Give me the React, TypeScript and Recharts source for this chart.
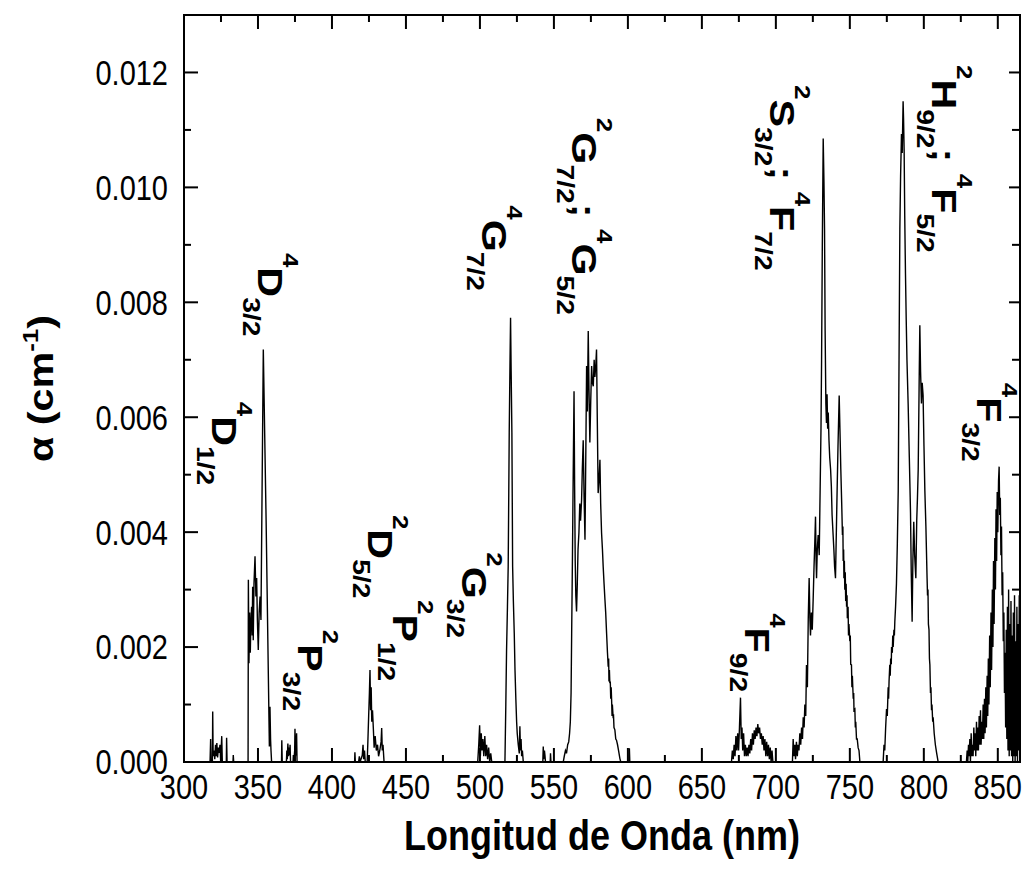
import React from 'react';
import { LineChart, Line, XAxis, YAxis, ReferenceDot } from 'recharts';

const FONT = '"Liberation Sans", Arial, Helvetica, sans-serif';
const STRETCH = 1.18;

const WIDTH = 1027;
const HEIGHT = 875;
const LEFT_W = 184;
const RIGHT_W = 7;
const TOP_H = 15;
const BOTTOM_H = 113;

const X_MIN = 300;
const X_MAX = 865;
const Y_MAX = 0.013;

const xTicks = [300, 325, 350, 375, 400, 425, 450, 475, 500, 525, 550, 575, 600, 625, 650, 675, 700, 725, 750, 775, 800, 825, 850];
const yTicks = [0, 0.001, 0.002, 0.003, 0.004, 0.005, 0.006, 0.007, 0.008, 0.009, 0.01, 0.011, 0.012];

// [nm, alpha (cm-1)], band by band
const uvBand: [number, number][] = [
    [300, 0], [317.6, 0], [318, 0.0004], [318.3, 0], [319.2, 0], [319.4, 0.00088], [319.7, 0.0001], [320.3, 0.0002],
    [320.8, 0.00005], [321.3, 0.0003], [321.7, 0.0001], [322.2, 0.00033], [322.7, 0.00008], [323.3, 0.00025],
    [323.8, 0.00016], [324.3, 0.0003], [324.8, 0], [325.5, 0.00045], [325.9, 0], [328.6, 0], [328.8, 0.00042],
    [329.1, 0], [333.1, 0], [333.3, 0.00012], [333.6, 0], [343.3, 0],
];

const band4D: [number, number][] = [
    [343.5, 0.00317], [343.9, 0.00172], [344.4, 0.0026], [344.8, 0.0019], [345.1, 0.0023], [345.7, 0.0027],
    [346.1, 0.0022], [346.4, 0.00305], [346.8, 0.00212], [347.3, 0.0031], [348, 0.00358], [348.6, 0.00288],
    [349.1, 0.0032], [349.6, 0.00247], [350.2, 0.00195], [350.8, 0.0026], [351.4, 0.00288], [352, 0.00247],
    [353.6, 0.00718], [355.5, 0.0042], [357.7, 0.00027], [358.1, 0.00096], [358.5, 0.0004], [358.8, 0.0002], [359.2, 0],
];

const band2P32: [number, number][] = [
    [365.9, 0], [366.1, 0.00038], [366.4, 0], [369.2, 0], [369.5, 0.0002], [369.8, 0.00005], [370.2, 0.00032],
    [370.6, 0.0001], [371, 0.00025], [371.4, 0.00012], [371.7, 0.0003], [372, 0], [373.7, 0], [373.9, 0.00012],
    [374.2, 0], [374.8, 0.0002], [375, 0.00058], [375.3, 0.0001], [375.8, 0.0003], [376.1, 0.0005], [376.4, 0], [415, 0],
];

const band2P12: [number, number][] = [
    [415.3, 0], [415.5, 0.00017], [415.8, 0], [418, 0], [418.5, 0.0001], [419, 0], [420.5, 0.00012], [421, 0.0003],
    [421.4, 0.00005], [422, 0.0002], [422.5, 0], [423.8, 0], [424.2, 0.0003], [424.8, 0.0008], [425.3, 0.0012],
    [425.7, 0.0016], [426.1, 0.0009], [426.5, 0.0013], [426.9, 0.0007], [427.4, 0.0009], [428, 0.00056],
    [428.5, 0.00025], [429.2, 0.00045], [430, 0.0002], [430.8, 0.0003], [431.5, 0.0001], [432.3, 0.0002],
    [433.2, 0.00035], [433.6, 0.00059], [434, 0.0002], [434.5, 0.0003], [435.2, 0], [498, 0],
];

const band4G72: [number, number][] = [
    [498.5, 0], [499.2, 0.0003], [499.8, 0.00064], [500.3, 0.0001], [500.9, 0.0005], [501.4, 0.0002], [502, 0.0004],
    [502.6, 0.0001], [503.3, 0.00045], [503.9, 0.0001], [504.5, 0.0003], [505.2, 0.00005], [505.9, 0.00025],
    [506.6, 0], [507.3, 0.00015], [508, 0], [516.9, 0], [517.5, 0.001], [518, 0.00195], [518.6, 0.0027],
    [519.1, 0.0034], [519.5, 0.0047], [519.8, 0.00573], [520.3, 0.0069], [520.7, 0.00773], [521.1, 0.0068],
    [521.6, 0.00573], [522.1, 0.0034], [522.6, 0.0028], [523.2, 0.00224], [523.7, 0.0016], [524.3, 0.00108],
    [524.8, 0.0007], [525.2, 0.0005], [525.9, 0.0003], [526.6, 0.00015], [527, 0.00062], [527.4, 0.0002],
    [527.8, 0.0004], [528.2, 0.0001], [528.7, 0.0002], [529.3, 0], [542.5, 0],
    [542.8, 0.00027], [543.1, 0.00005], [543.6, 0.0002], [544, 0.0001], [544.3, 0], [547.5, 0], [547.7, 0.00015],
    [548, 0], [555.8, 0],
];

const band2G: [number, number][] = [
    [556.3, 0], [557, 0.0001], [557.8, 0.0002], [558.5, 0.00015], [559.3, 0.0003], [560, 0.00035], [560.6, 0.0005],
    [561.1, 0.0007], [561.6, 0.0012], [562, 0.00224], [562.5, 0.0035], [563, 0.0049], [563.6, 0.00645],
    [564, 0.0048], [564.4, 0.0035], [564.8, 0.0029], [565.3, 0.00262], [565.8, 0.0031], [566.3, 0.0037],
    [566.9, 0.00399], [567.5, 0.0045], [568, 0.0042], [568.7, 0.00456], [569.2, 0.0051], [569.8, 0.0056],
    [570.4, 0.0046], [571, 0.00387], [571.5, 0.0052], [572.1, 0.00689], [572.6, 0.0061], [573.2, 0.0075],
    [573.7, 0.0065], [574.3, 0.00556], [574.9, 0.0063], [575.5, 0.00689], [576, 0.0066], [576.6, 0.00654],
    [577.2, 0.007], [577.7, 0.0067], [578.3, 0.0069], [578.8, 0.00718], [579.3, 0.006], [579.9, 0.00468],
    [580.5, 0.0049], [581.1, 0.00526], [581.6, 0.0045], [582.2, 0.00399], [582.8, 0.0037], [583.3, 0.0034],
    [583.9, 0.0031], [584.5, 0.00282], [585, 0.0026], [585.6, 0.00224], [586.2, 0.0019], [586.7, 0.00166],
    [587, 0.0018], [587.2, 0.0014], [587.5, 0.0016], [587.8, 0.00137], [588.1, 0.0014], [588.4, 0.0011],
    [588.7, 0.0013], [589, 0.00108], [589.3, 0.0008], [589.5, 0.001], [590, 0.00079], [590.3, 0.0008],
    [590.6, 0.0006], [591.2, 0.00056], [591.8, 0.0004], [592.3, 0.00038], [593, 0.0003], [593.7, 0.0002],
    [594.6, 0.00006], [595.2, 0], [600.8, 0], [601, 0.00024], [601.3, 0], [669.5, 0],
];

const band4F92: [number, number][] = [
    [670, 0], [670.6, 0.0002], [671.2, 0.00005], [671.8, 0.0003], [672.4, 0.0001], [673, 0.00045], [673.6, 0.0002],
    [674.2, 0.0005], [674.8, 0.0002], [675.4, 0.0006], [676.1, 0.00112], [676.6, 0.0004], [677.1, 0.0006],
    [677.6, 0.0002], [678.2, 0.0005], [678.8, 0.0001], [679.4, 0.0003], [680, 0.0001], [680.6, 0.00025],
    [681.2, 0.0001], [681.8, 0.0003], [682.4, 0.00015], [683, 0.0004], [683.6, 0.0002], [684.2, 0.0005],
    [684.8, 0.0003], [685.4, 0.00055], [686, 0.0004], [686.6, 0.0006], [687.2, 0.00045], [687.8, 0.00066],
    [688.4, 0.0005], [689, 0.0006], [689.6, 0.0004], [690.2, 0.0005], [690.8, 0.0003], [691.4, 0.00045],
    [692, 0.0002], [692.6, 0.0004], [693.2, 0.0001], [693.8, 0.00035], [694.4, 0.0001], [695, 0.0003],
    [695.6, 0.00005], [696.2, 0.00025], [696.8, 0], [697.4, 0.0002], [698, 0], [711, 0],
];

const band2S: [number, number][] = [
    [711.2, 0], [711.7, 0.0004], [712.2, 0.0001], [712.8, 0.0003], [713.3, 0.00005], [713.9, 0.00035], [714.5, 0.0001],
    [715, 0.0003], [715.6, 0.0002], [716.2, 0.0005], [716.8, 0.0003], [717.4, 0.0006], [718, 0.0004],
    [718.5, 0.00078], [719.1, 0.0006], [719.6, 0.001], [720.2, 0.0008], [720.7, 0.00169], [721.3, 0.0013],
    [721.9, 0.0025], [722.5, 0.0032], [723, 0.0025], [723.4, 0.0022], [724, 0.0026], [724.6, 0.0023],
    [725.2, 0.00282], [725.8, 0.0034], [726.3, 0.0038], [726.8, 0.00427], [727.2, 0.0035], [727.5, 0.0032],
    [728, 0.0037], [728.6, 0.00395], [729.3, 0.0036], [729.9, 0.0047], [730.5, 0.0058], [730.9, 0.00699],
    [731.4, 0.009], [732, 0.01085], [732.5, 0.0101], [732.9, 0.00927], [733.3, 0.0075], [733.8, 0.00624],
    [734.2, 0.0059], [734.6, 0.0064], [735, 0.0058], [735.4, 0.00608], [735.9, 0.0056], [736.4, 0.0053],
    [737, 0.00509], [737.5, 0.0048], [738, 0.0043], [738.7, 0.00395], [739.2, 0.0037], [739.7, 0.0034],
    [740.3, 0.0032], [740.8, 0.0039], [741.4, 0.00472], [742, 0.0055], [742.8, 0.00638], [743.3, 0.0058],
    [743.9, 0.00509], [744.5, 0.0045], [745, 0.00395], [745.3, 0.0041], [745.5, 0.0035], [745.8, 0.0037],
    [746, 0.0032], [746.3, 0.0035], [746.6, 0.003], [746.9, 0.0033], [747.2, 0.0028], [747.5, 0.0031],
    [747.8, 0.0027], [748.1, 0.0029], [748.3, 0.0025], [748.8, 0.0027], [749.1, 0.0022], [749.4, 0.0024],
    [750, 0.0021], [750.3, 0.0022], [750.6, 0.0017], [751.1, 0.00169], [751.4, 0.0013], [751.7, 0.0015],
    [752.3, 0.0011], [752.6, 0.0012], [752.8, 0.0009], [753.4, 0.00092], [753.7, 0.0006], [754, 0.0007],
    [754.5, 0.0004], [755, 0.0004], [755.6, 0.00025], [756.2, 0.0002], [756.8, 0], [772.3, 0],
];

const band2H: [number, number][] = [
    [772.5, 0], [773.1, 0.0003], [773.6, 0.0002], [774.2, 0.0006], [774.8, 0.00092], [775.3, 0.0008], [775.9, 0.0013],
    [776.2, 0.0011], [776.5, 0.0014], [777, 0.00169], [777.3, 0.0015], [777.6, 0.0018], [778, 0.0017],
    [778.2, 0.002], [778.7, 0.0019], [779, 0.0022], [779.3, 0.002], [779.8, 0.0023], [780.1, 0.0022],
    [780.4, 0.00244], [780.9, 0.0027], [781.5, 0.0031], [782.1, 0.0038], [782.7, 0.00472], [783.2, 0.0068],
    [783.8, 0.00927], [784.3, 0.0102], [784.9, 0.01093], [785.4, 0.0106], [786, 0.0115], [786.3, 0.0112],
    [786.7, 0.01063], [787.1, 0.0095], [787.6, 0.0085], [788.1, 0.0077], [788.6, 0.007], [789.4, 0.00624],
    [790.2, 0.0053], [791, 0.00434], [791.5, 0.0033], [792.1, 0.00244], [792.6, 0.0035], [793.2, 0.00418],
    [793.8, 0.0036], [794.6, 0.0032], [795.2, 0.0042], [795.7, 0.0046], [796.2, 0.00509], [796.8, 0.0065],
    [797.3, 0.0076], [797.8, 0.0068], [798.4, 0.00624], [798.9, 0.0066], [799.5, 0.00638], [800.1, 0.0055],
    [800.7, 0.00472], [801.4, 0.0041], [802.2, 0.0032], [802.5, 0.0029], [802.8, 0.003], [803.1, 0.0024],
    [803.5, 0.0023], [803.8, 0.0018], [804.1, 0.00169], [804.5, 0.0012], [804.8, 0.0013], [805.2, 0.0009],
    [805.5, 0.001], [806, 0.0007], [806.3, 0.00078], [807, 0.0005], [807.8, 0.0003], [808.7, 0.00015],
    [809.7, 0], [828.5, 0],
];

const band4F32: [number, number][] = [
    [828.8, 0], [829.3, 0.0002], [829.7, 0], [830.2, 0.0003], [830.6, 0.0001], [831.1, 0.0004], [831.5, 0],
    [832, 0.0005], [832.4, 0.0001], [832.9, 0.0003], [833.3, 0.0001], [833.8, 0.0006], [834.2, 0.0002],
    [834.7, 0.0005], [835.1, 0.0001], [835.6, 0.0007], [836, 0.0002], [836.5, 0.0006], [836.9, 0.0002],
    [837.4, 0.0008], [837.8, 0.0003], [838.3, 0.0009], [838.7, 0.0003], [839.2, 0.0007], [839.6, 0.0004],
    [840.1, 0.001], [840.5, 0.0004], [841, 0.0011], [841.4, 0.0005], [841.9, 0.0013], [842.3, 0.0006],
    [842.8, 0.0015], [843.2, 0.0008], [843.6, 0.0018], [844, 0.001], [844.5, 0.0022], [844.9, 0.0013],
    [845.4, 0.0026], [845.8, 0.0016], [846.3, 0.003], [846.7, 0.002], [847.1, 0.0035], [847.5, 0.0024],
    [848, 0.0039], [848.4, 0.003], [848.8, 0.0044], [849.2, 0.0035], [849.6, 0.0047], [850, 0.004],
    [850.5, 0.0049], [850.9, 0.00514], [851.3, 0.0043], [851.7, 0.0046], [852.1, 0.0036], [852.5, 0.0041],
    [852.9, 0.0029], [853.3, 0.0033], [853.7, 0.0021], [854.1, 0.0026], [854.5, 0.0012], [854.9, 0.0019],
    [855.3, 0.0006], [855.7, 0.0023], [856.1, 0.0004], [856.5, 0.0027], [856.9, 0.0002], [857.3, 0.003],
    [857.7, 0.0001], [858.1, 0.0024], [858.5, 0.0002], [858.9, 0.0028], [859.3, 0.0001], [859.7, 0.0022],
    [860.1, 0], [860.5, 0.0026], [860.9, 0.0001], [861.3, 0.0029], [861.7, 0], [862.1, 0.0021], [862.5, 0.0001],
    [862.9, 0.0027], [863.3, 0], [863.7, 0.0024], [864.1, 0.0002], [864.5, 0.0029], [865, 0.0012],
];

const spectrum = [
    ...uvBand, ...band4D, ...band2P32, ...band2P12, ...band4G72,
    ...band2G, ...band4F92, ...band2S, ...band2H, ...band4F32,
].map(([nm, alpha]) => ({ nm, alpha }));

type Level = 'sup' | 'main' | 'sub';
type Part = [Level, string];

// term symbols, anchored at (nm, alpha) = start of the rotated text on its baseline
const termLabels: { nm: number; alpha: number; parts: Part[] }[] = [
    { nm: 318.9, alpha: 0.00627, parts: [['sup', '4'], ['main', 'D'], ['sub', '1/2']] },
    { nm: 350, alpha: 0.00886, parts: [['sup', '4'], ['main', 'D'], ['sub', '3/2']] },
    { nm: 377, alpha: 0.0023, parts: [['sup', '2'], ['main', 'P'], ['sub', '3/2']] },
    { nm: 424.3, alpha: 0.0043, parts: [['sup', '2'], ['main', 'D'], ['sub', '5/2']] },
    { nm: 441.2, alpha: 0.00282, parts: [['sup', '2'], ['main', 'P'], ['sub', '1/2']] },
    { nm: 487.8, alpha: 0.00365, parts: [['sup', '2'], ['main', 'G'], ['sub', '3/2']] },
    { nm: 501.4, alpha: 0.00969, parts: [['sup', '4'], ['main', 'G'], ['sub', '7/2']] },
    { nm: 562.2, alpha: 0.01121, parts: [['sup', '2'], ['main', 'G'], ['sub', '7/2'], ['main', '; '], ['sup', '4'], ['main', 'G'], ['sub', '5/2']] },
    { nm: 696, alpha: 0.01178, parts: [['sup', '2'], ['main', 'S'], ['sub', '3/2'], ['main', '; '], ['sup', '4'], ['main', 'F'], ['sub', '7/2']] },
    { nm: 805.4, alpha: 0.01213, parts: [['sup', '2'], ['main', 'H'], ['sub', '9/2'], ['main', '; '], ['sup', '4'], ['main', 'F'], ['sub', '5/2']] },
    { nm: 679, alpha: 0.00259, parts: [['sup', '4'], ['main', 'F'], ['sub', '9/2']] },
    { nm: 835.8, alpha: 0.0066, parts: [['sup', '4'], ['main', 'F'], ['sub', '3/2']] },
];

const levelShift: Record<Level, number> = { sup: -25, main: 0, sub: 15 };
const levelSize: Record<Level, number> = { sup: 22, main: 35, sub: 24 };

const renderTerm = (parts: Part[]) => (p: any) => {
    let prev = 0;
    return (
        <text
            transform={`translate(${p.cx},${p.cy}) scale(1,${STRETCH}) rotate(90)`}
            fontFamily={FONT}
            fontWeight="bold"
            fill="#000"
        >
            {parts.map(([lvl, t], i) => {
                const dy = levelShift[lvl] - prev;
                prev = levelShift[lvl];
                return (
                    <tspan key={`p-${i}`} fontSize={levelSize[lvl]} dy={dy} style={{ whiteSpace: 'pre' }}>
                        {t}
                    </tspan>
                );
            })}
        </text>
    );
};

const isMajorX = (v: number) => v % 50 === 0;
const isMajorY = (v: number) => Math.round(v * 1000) % 2 === 0;

// inward tick marks as small filled bars, placed on the library's scale through ReferenceDot
const xTickBar = (v: number, down: boolean) => (p: any) => {
    const len = isMajorX(v) ? 14 : 7;
    return <rect x={p.cx - 1} y={down ? p.cy : p.cy - len} width={2} height={len} fill="#000" />;
};
const yTickBar = (v: number, right: boolean) => (p: any) => {
    const len = right ? (isMajorY(v) ? 11 : 8) : isMajorY(v) ? 14 : 7;
    return <rect x={right ? p.cx - len : p.cx} y={p.cy - 1} width={len} height={2} fill="#000" />;
};

const renderBottomLabel = (props: any) => {
    const v = props.payload.value;
    if (!isMajorX(v)) return <g key={`bl-${v}`} />;
    return (
        <text
            key={`bl-${v}`}
            transform={`translate(${props.x},${Number(props.y) + 37}) scale(1,${STRETCH})`}
            textAnchor="middle"
            fontSize={29}
            fontFamily={FONT}
            fill="#000"
        >
            {v}
        </text>
    );
};

const renderLeftLabel = (props: any) => {
    const v = props.payload.value;
    if (!isMajorY(v)) return <g key={`ll-${v}`} />;
    return (
        <text
            key={`ll-${v}`}
            transform={`translate(${Number(props.x) - 16},${props.y}) scale(1,${STRETCH})`}
            y={10.5}
            textAnchor="end"
            fontSize={29}
            fontFamily={FONT}
            fill="#000"
        >
            {v.toFixed(3)}
        </text>
    );
};

const XTitle = (props: any) => {
    const vb = props.viewBox;
    return (
        <text
            transform={`translate(${vb.x + vb.width / 2},${vb.y + 88}) scale(1,${STRETCH})`}
            textAnchor="middle"
            fontSize={36}
            fontWeight="bold"
            fontFamily={FONT}
            fill="#000"
        >
            Longitud de Onda (nm)
        </text>
    );
};

const YTitle = (props: any) => {
    const vb = props.viewBox;
    return (
        <text
            transform={`translate(${vb.x + 53},${vb.y + vb.height / 2}) scale(1,${STRETCH}) rotate(-90)`}
            textAnchor="middle"
            fontSize={35}
            fontWeight="bold"
            fontFamily={FONT}
            fill="#000"
        >
            α (cm<tspan fontSize={22} dy={-15}>-1</tspan>
            <tspan dy={15}>)</tspan>
        </text>
    );
};

const frame = { stroke: '#000', strokeWidth: 2, strokeLinecap: 'square' as const };

export default function App() {
    return (
        <div style={{ position: 'absolute', left: 0, top: 0, width: WIDTH, height: HEIGHT, background: '#fff' }}>
            <LineChart width={WIDTH} height={HEIGHT} data={spectrum} margin={{ top: 0, right: 0, bottom: 0, left: 0 }}>
                <XAxis
                    xAxisId="bottom"
                    dataKey="nm"
                    type="number"
                    domain={[X_MIN, X_MAX]}
                    ticks={xTicks}
                    height={BOTTOM_H}
                    tickSize={0}
                    tickMargin={0}
                    tickLine={false}
                    axisLine={frame}
                    tick={renderBottomLabel}
                    label={{ content: <XTitle /> }}
                />
                <XAxis
                    xAxisId="top"
                    orientation="top"
                    dataKey="nm"
                    type="number"
                    domain={[X_MIN, X_MAX]}
                    height={TOP_H}
                    tickLine={false}
                    axisLine={frame}
                    tick={false}
                />
                <YAxis
                    yAxisId="left"
                    type="number"
                    domain={[0, Y_MAX]}
                    ticks={yTicks}
                    width={LEFT_W}
                    tickSize={0}
                    tickMargin={0}
                    tickLine={false}
                    axisLine={frame}
                    tick={renderLeftLabel}
                    label={{ content: <YTitle /> }}
                />
                <YAxis
                    yAxisId="right"
                    orientation="right"
                    type="number"
                    domain={[0, Y_MAX]}
                    width={RIGHT_W}
                    tickLine={false}
                    axisLine={frame}
                    tick={false}
                />
                <Line
                    xAxisId="bottom"
                    yAxisId="left"
                    type="linear"
                    dataKey="alpha"
                    stroke="#000"
                    strokeWidth={1.4}
                    dot={false}
                    activeDot={false}
                    isAnimationActive={false}
                />
                {xTicks.map((v) => (
                    <ReferenceDot key={`xb-${v}`} xAxisId="bottom" yAxisId="left" x={v} y={0} r={1} ifOverflow="visible"
                        shape={xTickBar(v, false)} />
                ))}
                {xTicks.map((v) => (
                    <ReferenceDot key={`xt-${v}`} xAxisId="bottom" yAxisId="left" x={v} y={Y_MAX} r={1} ifOverflow="visible"
                        shape={xTickBar(v, true)} />
                ))}
                {yTicks.map((v) => (
                    <ReferenceDot key={`yl-${v}`} xAxisId="bottom" yAxisId="left" x={X_MIN} y={v} r={1} ifOverflow="visible"
                        shape={yTickBar(v, false)} />
                ))}
                {yTicks.map((v) => (
                    <ReferenceDot key={`yr-${v}`} xAxisId="bottom" yAxisId="left" x={X_MAX} y={v} r={1} ifOverflow="visible"
                        shape={yTickBar(v, true)} />
                ))}
                {termLabels.map((l, i) => (
                    <ReferenceDot key={`term-${i}`} xAxisId="bottom" yAxisId="left" x={l.nm} y={l.alpha} r={1}
                        shape={renderTerm(l.parts)} />
                ))}
            </LineChart>
        </div>
    );
}
